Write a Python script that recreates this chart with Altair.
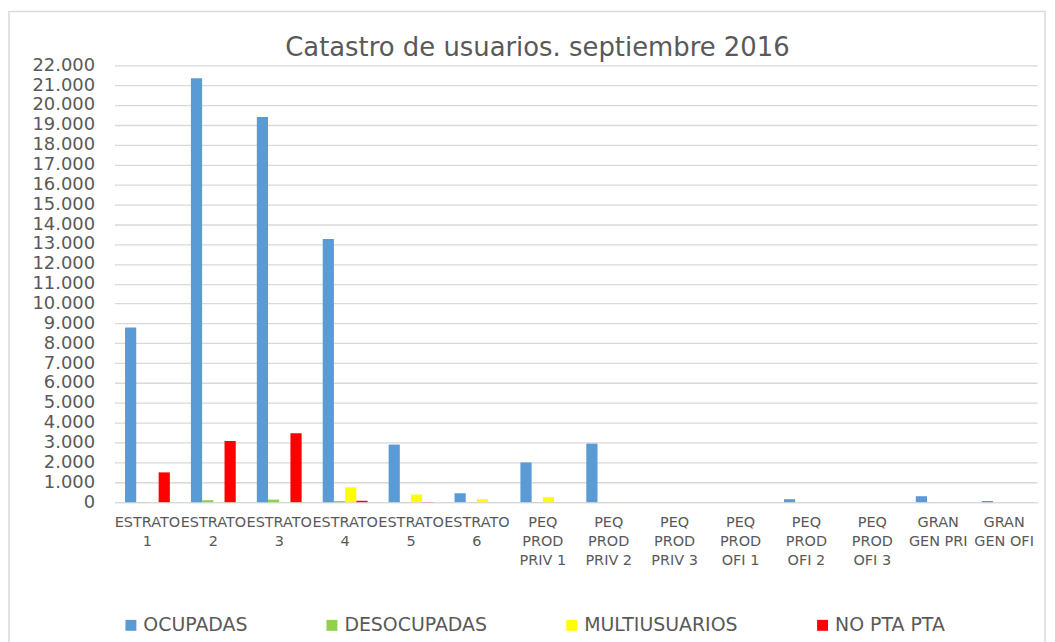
import altair as alt
import pandas as pd

categories = [
    "ESTRATO 1", "ESTRATO 2", "ESTRATO 3", "ESTRATO 4", "ESTRATO 5", "ESTRATO 6",
    "PEQ PROD PRIV 1", "PEQ PROD PRIV 2", "PEQ PROD PRIV 3",
    "PEQ PROD OFI 1", "PEQ PROD OFI 2", "PEQ PROD OFI 3",
    "GRAN GEN PRI", "GRAN GEN OFI",
]
series = ["OCUPADAS", "DESOCUPADAS", "MULTIUSUARIOS", "NO PTA PTA"]
colors = ["#5B9BD5", "#92D050", "#FFFF00", "#FF0000"]

ocupadas = [8800, 21350, 19400, 13250, 2900, 450, 2000, 2950, 0, 0, 150, 0, 300, 60]
desocupadas = [10, 100, 130, 60, 10, 5, 5, 5, 0, 0, 0, 0, 5, 0]
multiusuarios = [5, 5, 5, 750, 385, 150, 250, 5, 0, 0, 0, 0, 0, 0]
no_pta_pta = [1500, 3080, 3470, 70, 10, 0, 0, 0, 0, 0, 0, 0, 0, 0]

y_ticks = list(range(0, 22001, 1000))
title_text = ["Catastro de usuarios. septiembre 2016"]

rows = []
for name, vals in zip(series, [ocupadas, desocupadas, multiusuarios, no_pta_pta]):
    for c, v in zip(categories, vals):
        rows.append({"categoria": c, "serie": name, "valor": v})
df = pd.DataFrame(rows)

FONT = "DejaVu Sans"
GRAY = "#595959"
GRID = "#d9d9d9"

label_expr = (
    "indexof(datum.value, 'ESTRATO') == 0 ? split(datum.value, ' ') : "
    "indexof(datum.value, 'PEQ') == 0 ? ['PEQ', 'PROD', slice(datum.value, 9)] : "
    "['GRAN', slice(datum.value, 5)]"
)

bars = alt.Chart(df).mark_bar().encode(
    x=alt.X(
        "categoria:N",
        sort=categories,
        scale=alt.Scale(paddingInner=0.32, paddingOuter=0.16),
        axis=alt.Axis(
            title=None, labelExpr=label_expr, labelAngle=0, labelFont=FONT,
            labelFontSize=14.5, labelColor=GRAY, labelLineHeight=19.5,
            labelPadding=13, ticks=False, tickSize=0, domainColor=GRID,
            domainWidth=1.3, labelOverlap=False, labelLimit=300, grid=False,
            labelBaseline="top",
        ),
    ),
    xOffset=alt.XOffset(
        "serie:N", sort=series,
        scale=alt.Scale(domain=series, paddingInner=0, paddingOuter=0),
    ),
    y=alt.Y(
        "valor:Q",
        scale=alt.Scale(domain=[0, 22000], nice=False),
        axis=alt.Axis(
            title=None, values=y_ticks,
            labelExpr="replace(format(datum.value, ','), ',', '.')",
            labelFont=FONT, labelFontSize=18, labelColor=GRAY,
            ticks=False, tickSize=0, labelPadding=20, domain=False,
            grid=True, gridColor=GRID, gridWidth=1.3,
        ),
    ),
    color=alt.Color(
        "serie:N",
        scale=alt.Scale(domain=series, range=colors),
        legend=alt.Legend(
            title=None, orient="none", legendX=7, legendY=553,
            direction="horizontal", columns=4, symbolType="square",
            symbolSize=121, symbolStrokeWidth=0, symbolOpacity=1,
            labelFont=FONT, labelFontSize=19, labelColor=GRAY,
            columnPadding=75, labelOffset=3,
        ),
    ),
)

frame = alt.Chart(pd.DataFrame({"f": [0]})).mark_rect(
    fillOpacity=0, stroke=GRID, strokeWidth=1.5
).encode(
    x=alt.value(-106), x2=alt.value(935), y=alt.value(-54), y2=alt.value(700)
)

title = alt.Chart(pd.DataFrame({"t": title_text})).mark_text(
    font=FONT, fontSize=26, color=GRAY, align="center", baseline="alphabetic"
).encode(
    text="t:N", x=alt.value(425), y=alt.value(-9)
)

chart = alt.layer(frame, bars, title).properties(
    width=927,
    height=439,
    autosize="none",
    padding={"left": 107, "top": 56, "right": 10, "bottom": 150},
).configure_view(strokeWidth=0)

chart.save("out.html", embed_options={"renderer": "svg", "actions": False})
